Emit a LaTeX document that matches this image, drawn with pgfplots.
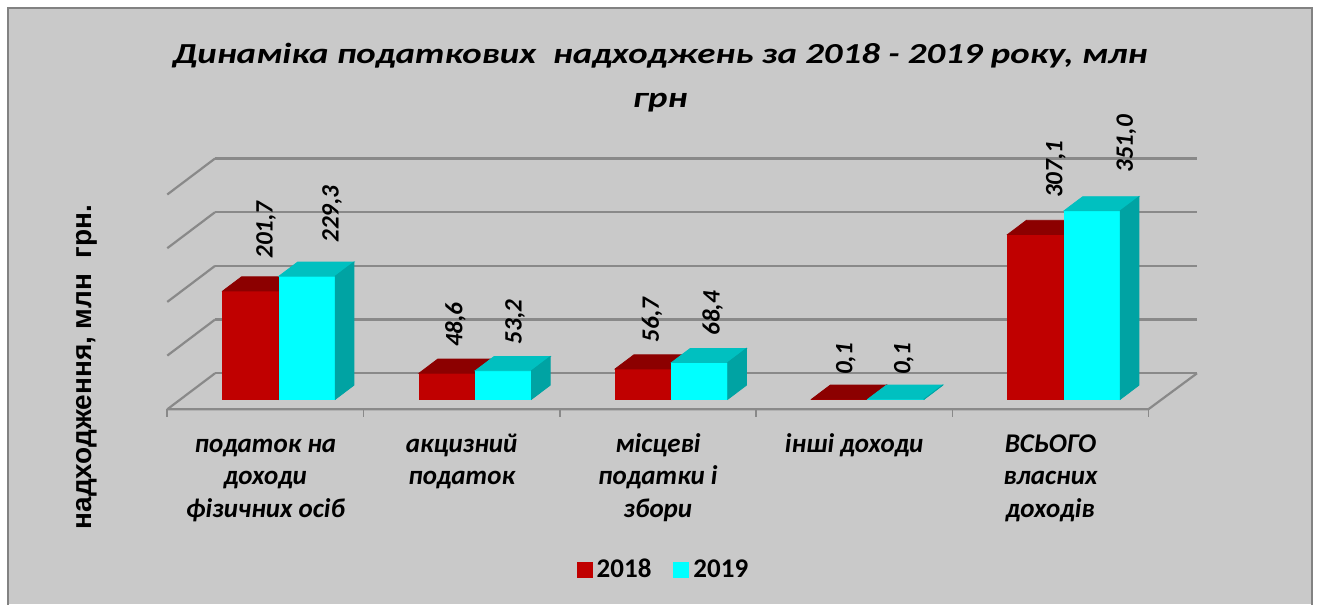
\documentclass[border=0pt]{standalone}
\usepackage{pgfplots}
\pgfplotsset{compat=1.18}
\usepackage{pgfplotstable}
\usepackage{fontspec}
\setmainfont{Carlito}
\newfontfamily\titlef[FakeStretch=1.27]{Carlito}
\newfontfamily\arialf{Liberation Sans}
\definecolor{bg}{RGB}{201,201,201}
\definecolor{framec}{RGB}{130,130,130}
\definecolor{gridc}{RGB}{137,137,137}
\definecolor{redF}{RGB}{192,0,0}
\definecolor{redT}{RGB}{140,0,0}
\definecolor{redS}{RGB}{160,0,0}
\definecolor{cyF}{RGB}{0,255,255}
\definecolor{cyT}{RGB}{0,192,192}
\definecolor{cyS}{RGB}{0,163,163}

\pgfplotstableread{
x a b
1 201.7 229.3
2 48.6 53.2
3 56.7 68.4
4 0.1 0.1
5 307.1 351.0
}\data

\pgfdeclareplotmark{nothing}{}
% #1 value, #2 front colour, #3 top colour, #4 side colour
\newcommand{\cubefaces}[4]{%
  \fill[#2] (0pt,0pt) rectangle (-28.11pt,-0.2685pt*#1);
  \fill[#3] (0pt,0pt) -- (-28.11pt,0pt) -- (-18.76pt,7.05pt) -- (9.35pt,7.05pt) -- cycle;
  \fill[#4] (0pt,0pt) -- (9.35pt,7.05pt) -- (9.35pt,7.05pt-0.2685pt*#1) -- (0pt,-0.2685pt*#1) -- cycle;
}

\begin{document}
\begin{tikzpicture}
\path[use as bounding box] (0,0) rectangle (660pt,302pt);
\fill[white] (0,0) rectangle (660pt,302pt);
\fill[bg] (4pt,0pt) rectangle (656pt,298pt);
\draw[framec, line width=0.9pt] (4pt,-1pt) -- (4pt,298pt) -- (656pt,298pt) -- (656pt,-1pt);
\node[font=\titlef\fontsize{14.5pt}{17pt}\selectfont\bfseries\itshape, anchor=base, inner sep=0pt] at (330pt,270.3pt) {Динаміка податкових~ надходжень за 2018 - 2019 року, млн};
\node[font=\titlef\fontsize{14.5pt}{17pt}\selectfont\bfseries\itshape, anchor=base, inner sep=0pt] at (330pt,248pt) {грн};
\node[font=\arialf\fontsize{14pt}{16pt}\selectfont\bfseries, rotate=90, anchor=center, inner sep=0pt] at (43.35pt,118.5pt) {надходження, млн~ грн.};

\begin{axis}[
  at={(107.5pt,102.35pt)}, anchor=south west,
  x=98.125pt, y=0.2685pt,
  xmin=0.6739, xmax=5.6777, ymin=0, ymax=448.5,
  clip=false,
  axis line style={draw=none},
  major tick length=0pt,
  ytick={48.42,148.42,248.42,348.42,448.42},
  yticklabels={},
  ymajorgrids,
  grid style={line width=1.1pt, color=gridc},
  xtick={0.9308,1.9308,2.9308,3.9308,4.9308},
  xticklabels={{\strut податок на\\доходи\\фізичних осіб},{\strut акцизний\\податок},{\strut місцеві\\податки і\\збори},{\strut інші доходи},{\strut ВСЬОГО\\власних\\доходів}},
  xticklabel style={font=\fontsize{13.5pt}{16.25pt}\selectfont\bfseries\itshape, align=center, anchor=north, inner sep=0pt, yshift=-14.85pt},
  legend columns=-1,
  legend style={at={(0.4577,-0.709)}, anchor=center, draw=none, fill=none,
    font=\fontsize{13.5pt}{16pt}\selectfont\bfseries,
    /tikz/every even column/.append style={column sep=9pt}},
  legend image code/.code={\fill[#1] (0pt,-4pt) rectangle (8pt,4pt);},
]
% floor and side wall
\draw[gridc, line width=1.1pt] (axis cs:0.4308,-18.62) -- (axis cs:5.4296,-18.62) -- (axis cs:5.6777,48.42);
\draw[gridc, line width=1.1pt] (axis cs:0.6739,48.42) -- (axis cs:0.4308,-18.62);
\draw[gridc, line width=1.1pt] (axis cs:0.6739,148.42) -- (axis cs:0.4308,81.38);
\draw[gridc, line width=1.1pt] (axis cs:0.6739,248.42) -- (axis cs:0.4308,181.38);
\draw[gridc, line width=1.1pt] (axis cs:0.6739,348.42) -- (axis cs:0.4308,281.38);
\draw[gridc, line width=1.1pt] (axis cs:0.6739,448.42) -- (axis cs:0.4308,381.38);
\draw[gridc, line width=0.8pt] (axis cs:0.4308,-18.62) -- (axis cs:0.4308,-33.5);
\draw[gridc, line width=0.8pt] (axis cs:1.4308,-18.62) -- (axis cs:1.4308,-33.5);
\draw[gridc, line width=0.8pt] (axis cs:2.4308,-18.62) -- (axis cs:2.4308,-33.5);
\draw[gridc, line width=0.8pt] (axis cs:3.4308,-18.62) -- (axis cs:3.4308,-33.5);
\draw[gridc, line width=0.8pt] (axis cs:4.4308,-18.62) -- (axis cs:4.4308,-33.5);
\draw[gridc, line width=0.8pt] (axis cs:5.4308,-18.62) -- (axis cs:5.4308,-33.5);

% 2018
\addplot[ybar, bar width=0.2865, bar shift=-0.14325, fill=redF, draw=none,
  visualization depends on={\thisrow{a} \as \va},
  nodes near coords={\pgfmathprintnumber[fixed,fixed zerofill,precision=1,use comma,assume math mode=true]{\pgfplotspointmeta}},
  every node near coord/.style={font=\fontsize{12.5pt}{14pt}\selectfont\bfseries\itshape, inner sep=0pt,
    xshift={-11pt+0.0225pt*\va}, yshift={12pt+0.02pt*\va}, rotate=90, anchor=west, text=black}]
  table[x=x, y=a] {\data};
\addlegendentry{2018}
\addplot[scatter, only marks, mark=nothing, forget plot,
  point meta=y, point meta min=0, point meta max=1000,
  scatter/@pre marker code/.code={\cubefaces{\pgfplotspointmetatransformed}{redF}{redT}{redS}},
  scatter/@post marker code/.code={}]
  table[x=x, y=a] {\data};

% 2019
\addplot[ybar, bar width=0.2865, bar shift=0.14325, fill=cyF, draw=none,
  visualization depends on={\thisrow{b} \as \vb},
  nodes near coords={\pgfmathprintnumber[fixed,fixed zerofill,precision=1,use comma,assume math mode=true]{\pgfplotspointmeta}},
  every node near coord/.style={font=\fontsize{12.5pt}{14pt}\selectfont\bfseries\itshape, inner sep=0pt,
    xshift={18pt+0.0375pt*\vb}, yshift={12pt+0.02pt*\vb}, rotate=90, anchor=west, text=black}]
  table[x=x, y=b] {\data};
\addlegendentry{2019}
\addplot[scatter, only marks, mark=nothing, forget plot,
  point meta=y, point meta min=0, point meta max=1000,
  scatter/@pre marker code/.code={\cubefaces{\pgfplotspointmetatransformed}{cyF}{cyT}{cyS}},
  scatter/@post marker code/.code={}]
  table[x expr=\thisrow{x}+0.2865, y=b] {\data};
\end{axis}
\end{tikzpicture}
\end{document}
